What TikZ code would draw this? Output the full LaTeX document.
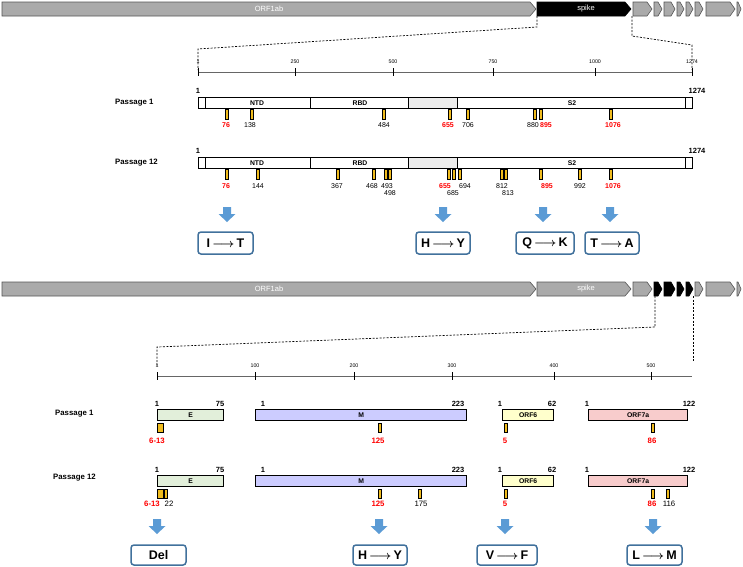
\documentclass[tikz,border=0pt]{standalone}
\usepackage{fontspec}
\setmainfont{Liberation Sans}
\definecolor{gold}{RGB}{240,188,30}
\definecolor{genegray}{RGB}{170,170,170}
\definecolor{genedark}{RGB}{85,85,85}
\definecolor{arrowblue}{RGB}{91,155,213}
\definecolor{boxblue}{RGB}{65,113,156}
\definecolor{regiongray}{RGB}{236,236,236}
\definecolor{efill}{RGB}{226,239,218}
\definecolor{mfill}{RGB}{204,204,255}
\definecolor{sixfill}{RGB}{255,255,204}
\definecolor{sevenfill}{RGB}{248,204,204}
\newcommand{\gnarrow}[6]{\draw[#5] (#1,#3) -- ({#2-#6},#3) -- (#2,{(#3+#4)/2}) -- ({#2-#6},#4) -- (#1,#4) -- cycle;}
\newcommand{\mutarrow}{\,{\boldmath$\longrightarrow$}\,}
\tikzset{
  genebar/.style={draw=genedark, fill=genegray, line width=0.6pt},
  blackbar/.style={draw=black, fill=black, line width=0.6pt},
  gtext/.style={text=white, font=\fontsize{7.5}{9}\selectfont, inner sep=0},
  dashline/.style={dash pattern=on 2pt off 1.5pt, line width=0.7pt},
  rulerline/.style={line width=0.9pt, draw=black!60},
  rtick/.style={line width=0.9pt},
  rlab/.style={font=\fontsize{5.3}{6}\selectfont, inner sep=0},
  psg/.style={font=\bfseries\fontsize{7.8}{9}\selectfont, inner sep=0, anchor=west},
  protbar/.style={draw, line width=1.3pt, inner sep=0},
  divider/.style={line width=0.5pt},
  dlab/.style={font=\bfseries\fontsize{6.8}{8}\selectfont, inner sep=0},
  endlab/.style={font=\bfseries\fontsize{7.5}{9}\selectfont, inner sep=0},
  mtick/.style={draw=black, fill=gold, line width=0.4pt, minimum width=3pt, minimum height=10pt, inner sep=0},
  nlab/.style={font=\fontsize{7}{8}\selectfont, inner sep=0},
  rlabr/.style={font=\bfseries\fontsize{7}{8}\selectfont, inner sep=0, text=red},
  mutbox/.style={draw=boxblue, rounded corners=3pt, line width=1.5pt, fill=white, font=\bfseries\fontsize{12.5}{14}\selectfont, inner sep=0, minimum height=22pt},
  downarr/.pic={\fill[arrowblue] (-4,0) -- (4,0) -- (4,7) -- (8.5,7) -- (0,15) -- (-8.5,7) -- (-4,7) -- cycle;}
}
\begin{document}
\begin{tikzpicture}[x=1pt,y=-1pt]
\useasboundingbox (0,0) rectangle (743,566);
% ---------------- top genome bar
\gnarrow{2}{536}{2}{16}{genebar}{6}
\gnarrow{537}{631}{2}{16}{blackbar}{6}
\gnarrow{633}{652}{2}{16}{genebar}{5}
\gnarrow{654}{662}{2}{16}{genebar}{4}
\gnarrow{664}{675}{2}{16}{genebar}{4}
\gnarrow{677}{684}{2}{16}{genebar}{4}
\gnarrow{686}{693}{2}{16}{genebar}{4}
\gnarrow{695}{703}{2}{16}{genebar}{4}
\gnarrow{706}{735}{2}{16}{genebar}{5}
\gnarrow{737}{741}{2}{16}{genebar}{3}
\node[gtext] (torf) at (269,9) {ORF1ab};
\node[gtext] (tspk) at (586,9) {spike};
\coordinate (tl0) at (537,16);
\coordinate (tr0) at (632,16);
\draw[dashline] (tl0) -- (537,27) -- (198,49) -- (198,70);
\draw[dashline] (tr0) -- (632,36) -- (692,45) -- (692,70);
% ruler top
\draw[rulerline] (198,72) -- (692,72);
\foreach \x/\l in {198/1,295/250,393/500,493/750,595/1000,692/1274}{
  \draw[rtick] (\x,68) -- (\x,76);
  \node[rlab] (tr\l) at (\x,62) {\l};
}
% ---------------- Passage 1 (spike)
\node[psg] (tp1) at (115,103) {Passage 1};
\fill[regiongray] (408,97) rectangle (457,108);
\node[protbar, minimum width=494pt, minimum height=11pt, anchor=north west] (sp1) at (198,97) {};
\foreach \x in {205,310,408,457,685} \draw[divider] (\x,97) -- (\x,108);
\node[dlab] (ntd1) at (257,103) {NTD};
\node[dlab] (rbd1) at (360,103) {RBD};
\node[dlab] (s21) at (572,103) {S2};
\node[endlab] (s1a) at (198,91) {1};
\node[endlab] (s1b) at (697,91) {1274};
\foreach \x [count=\i] in {227,252,383.5,449.5,468,535,541,611}
  \node[mtick] (ta\i) at (\x,114) {};
\node[rlabr] (la1) at (226,125) {76};
\node[nlab] (la2) at (250,125) {138};
\node[nlab] (la3) at (384,125) {484};
\node[rlabr] (la4) at (448,125) {655};
\node[nlab] (la5) at (468,125) {706};
\node[nlab] (la6) at (533,125) {880};
\node[rlabr] (la7) at (546,125) {895};
\node[rlabr] (la8) at (613,125) {1076};
% ---------------- Passage 12 (spike)
\node[psg] (tp12) at (115,163) {Passage 12};
\fill[regiongray] (408,157) rectangle (457,168);
\node[protbar, minimum width=494pt, minimum height=11pt, anchor=north west] (sp12) at (198,157) {};
\foreach \x in {205,310,408,457,685} \draw[divider] (\x,157) -- (\x,168);
\node[dlab] (ntd12) at (257,163) {NTD};
\node[dlab] (rbd12) at (360,163) {RBD};
\node[dlab] (s212) at (572,163) {S2};
\node[endlab] (s12a) at (198,151) {1};
\node[endlab] (s12b) at (697,151) {1274};
\foreach \x [count=\i] in {227,258,338,374,386,390,449,453.5,460,502,505.5,541,580,611}
  \node[mtick] (tb\i) at (\x,174) {};
\node[rlabr] (lb1) at (226,186) {76};
\node[nlab] (lb2) at (258,186) {144};
\node[nlab] (lb3) at (337,186) {367};
\node[nlab] (lb4) at (372,186) {468};
\node[nlab] (lb5) at (387,186) {493};
\node[nlab] (lb6) at (390,193) {498};
\node[rlabr] (lb7) at (445,186) {655};
\node[nlab] (lb8) at (453,193) {685};
\node[nlab] (lb9) at (465,186) {694};
\node[nlab] (lb10) at (502,186) {812};
\node[nlab] (lb11) at (508,193) {813};
\node[rlabr] (lb12) at (547,186) {895};
\node[nlab] (lb13) at (580,186) {992};
\node[rlabr] (lb14) at (613,186) {1076};
% arrows + boxes (spike)
\pic (ua1) at (227,207) {downarr};
\pic (ua2) at (443,207) {downarr};
\pic (ua3) at (543,207) {downarr};
\pic (ua4) at (610,207) {downarr};
\node[mutbox, minimum width=55pt] (bIT) at (225.5,243) {I\mutarrow T};
\node[mutbox, minimum width=54pt] (bHY) at (443,243) {H\mutarrow Y};
\node[mutbox, minimum width=58pt] (bQK) at (545,243) {Q\mutarrow K};
\node[mutbox, minimum width=54pt] (bTA) at (612,243) {T\mutarrow A};
% ---------------- bottom genome bar
\gnarrow{2}{536}{282}{296}{genebar}{6}
\gnarrow{537}{631}{282}{296}{genebar}{6}
\gnarrow{633}{652}{282}{296}{genebar}{5}
\gnarrow{654}{662}{282}{296}{blackbar}{4}
\gnarrow{664}{675}{282}{296}{blackbar}{4}
\gnarrow{677}{684}{282}{296}{blackbar}{4}
\gnarrow{686}{693}{282}{296}{blackbar}{4}
\gnarrow{695}{703}{282}{296}{genebar}{4}
\gnarrow{706}{735}{282}{296}{genebar}{5}
\gnarrow{737}{741}{282}{296}{genebar}{3}
\node[gtext] (borf) at (269,289) {ORF1ab};
\node[gtext] (bspk) at (586,289) {spike};
\coordinate (bl0) at (655,296);
\coordinate (br0) at (693,296);
\draw[dashline] (bl0) -- (655,327) -- (157,347) -- (157,366);
\draw[dashline] (br0) -- (693,362);
% ruler bottom
\draw[rulerline] (157,376) -- (692,376);
\foreach \x/\l in {157/1,255/100,354/200,452/300,554/400,651/500}{
  \draw[rtick] (\x,372) -- (\x,380);
  \node[rlab] (br\l) at (\x,366) {\l};
}
% ---------------- Passage 1 (accessory)
\node[psg] (bp1) at (55,414) {Passage 1};
\node[protbar, fill=efill, minimum width=66pt, minimum height=11pt, anchor=north west] (e1) at (157,409) {};
\node[protbar, fill=mfill, minimum width=211pt, minimum height=11pt, anchor=north west] (m1) at (255,409) {};
\node[protbar, fill=sixfill, minimum width=51pt, minimum height=11pt, anchor=north west] (o61) at (502,409) {};
\node[protbar, fill=sevenfill, minimum width=99pt, minimum height=11pt, anchor=north west] (o71) at (588,409) {};
\node[dlab] at (e1.center) {E};
\node[dlab] at (m1.center) {M};
\node[dlab] at (o61.center) {ORF6};
\node[dlab] at (o71.center) {ORF7a};
\node[endlab] (e1a) at (157,404) {1};
\node[endlab] (e1b) at (220,404) {75};
\node[endlab] (m1a) at (263,404) {1};
\node[endlab] (m1b) at (458,404) {223};
\node[endlab] (o61a) at (500,404) {1};
\node[endlab] (o61b) at (552,404) {62};
\node[endlab] (o71a) at (587,404) {1};
\node[endlab] (o71b) at (689,404) {122};
\node[mtick, minimum width=6pt, minimum height=9pt] (tc1) at (160,427.5) {};
\node[mtick, minimum height=9pt] (tc2) at (379.5,427.5) {};
\node[mtick, minimum height=9pt] (tc3) at (505.5,427.5) {};
\node[mtick, minimum height=9pt] (tc4) at (652.5,427.5) {};
\node[rlabr, font=\bfseries\fontsize{7.8}{9}\selectfont] (lc1) at (157,441) {6-13};
\node[rlabr, font=\bfseries\fontsize{7.8}{9}\selectfont] (lc2) at (378,441) {125};
\node[rlabr, font=\bfseries\fontsize{7.8}{9}\selectfont] (lc3) at (505,441) {5};
\node[rlabr, font=\bfseries\fontsize{7.8}{9}\selectfont] (lc4) at (652,441) {86};
% ---------------- Passage 12 (accessory)
\node[psg] (bp12) at (53,478) {Passage 12};
\node[protbar, fill=efill, minimum width=66pt, minimum height=11pt, anchor=north west] (e12) at (157,475) {};
\node[protbar, fill=mfill, minimum width=211pt, minimum height=11pt, anchor=north west] (m12) at (255,475) {};
\node[protbar, fill=sixfill, minimum width=51pt, minimum height=11pt, anchor=north west] (o612) at (502,475) {};
\node[protbar, fill=sevenfill, minimum width=99pt, minimum height=11pt, anchor=north west] (o712) at (588,475) {};
\node[dlab] at (e12.center) {E};
\node[dlab] at (m12.center) {M};
\node[dlab] at (o612.center) {ORF6};
\node[dlab] at (o712.center) {ORF7a};
\node[endlab] (e12a) at (157,470) {1};
\node[endlab] (e12b) at (220,470) {75};
\node[endlab] (m12a) at (263,470) {1};
\node[endlab] (m12b) at (458,470) {223};
\node[endlab] (o612a) at (500,470) {1};
\node[endlab] (o612b) at (552,470) {62};
\node[endlab] (o712a) at (587,470) {1};
\node[endlab] (o712b) at (689,470) {122};
\node[mtick, minimum width=6pt, minimum height=9pt] (td1) at (160,493.5) {};
\node[mtick, minimum height=9pt] (td2) at (166,493.5) {};
\node[mtick, minimum height=9pt] (td3) at (379.5,493.5) {};
\node[mtick, minimum height=9pt] (td4) at (420,493.5) {};
\node[mtick, minimum height=9pt] (td5) at (505.5,493.5) {};
\node[mtick, minimum height=9pt] (td6) at (652.5,493.5) {};
\node[mtick, minimum height=9pt] (td7) at (668,493.5) {};
\node[rlabr, font=\bfseries\fontsize{7.8}{9}\selectfont] (ld1) at (152,504) {6-13};
\node[nlab, font=\fontsize{7.8}{9}\selectfont] (ld2) at (169,504) {22};
\node[rlabr, font=\bfseries\fontsize{7.8}{9}\selectfont] (ld3) at (378,504) {125};
\node[nlab, font=\fontsize{7.8}{9}\selectfont] (ld4) at (421,504) {175};
\node[rlabr, font=\bfseries\fontsize{7.8}{9}\selectfont] (ld5) at (505,504) {5};
\node[rlabr, font=\bfseries\fontsize{7.8}{9}\selectfont] (ld6) at (652,504) {86};
\node[nlab, font=\fontsize{7.8}{9}\selectfont] (ld7) at (669,504) {116};
% arrows + boxes (accessory)
\pic (da1) at (157,519) {downarr};
\pic (da2) at (379,519) {downarr};
\pic (da3) at (505,519) {downarr};
\pic (da4) at (653,519) {downarr};
\node[mutbox, minimum width=55pt, minimum height=20pt] (bDel) at (158.5,555) {Del};
\node[mutbox, minimum width=54pt, minimum height=20pt] (bHY2) at (380,555) {H\mutarrow Y};
\node[mutbox, minimum width=60pt, minimum height=20pt] (bVF) at (507,555) {V\mutarrow F};
\node[mutbox, minimum width=55pt, minimum height=20pt] (bLM) at (654.5,555) {L\mutarrow M};
\end{tikzpicture}
\end{document}
